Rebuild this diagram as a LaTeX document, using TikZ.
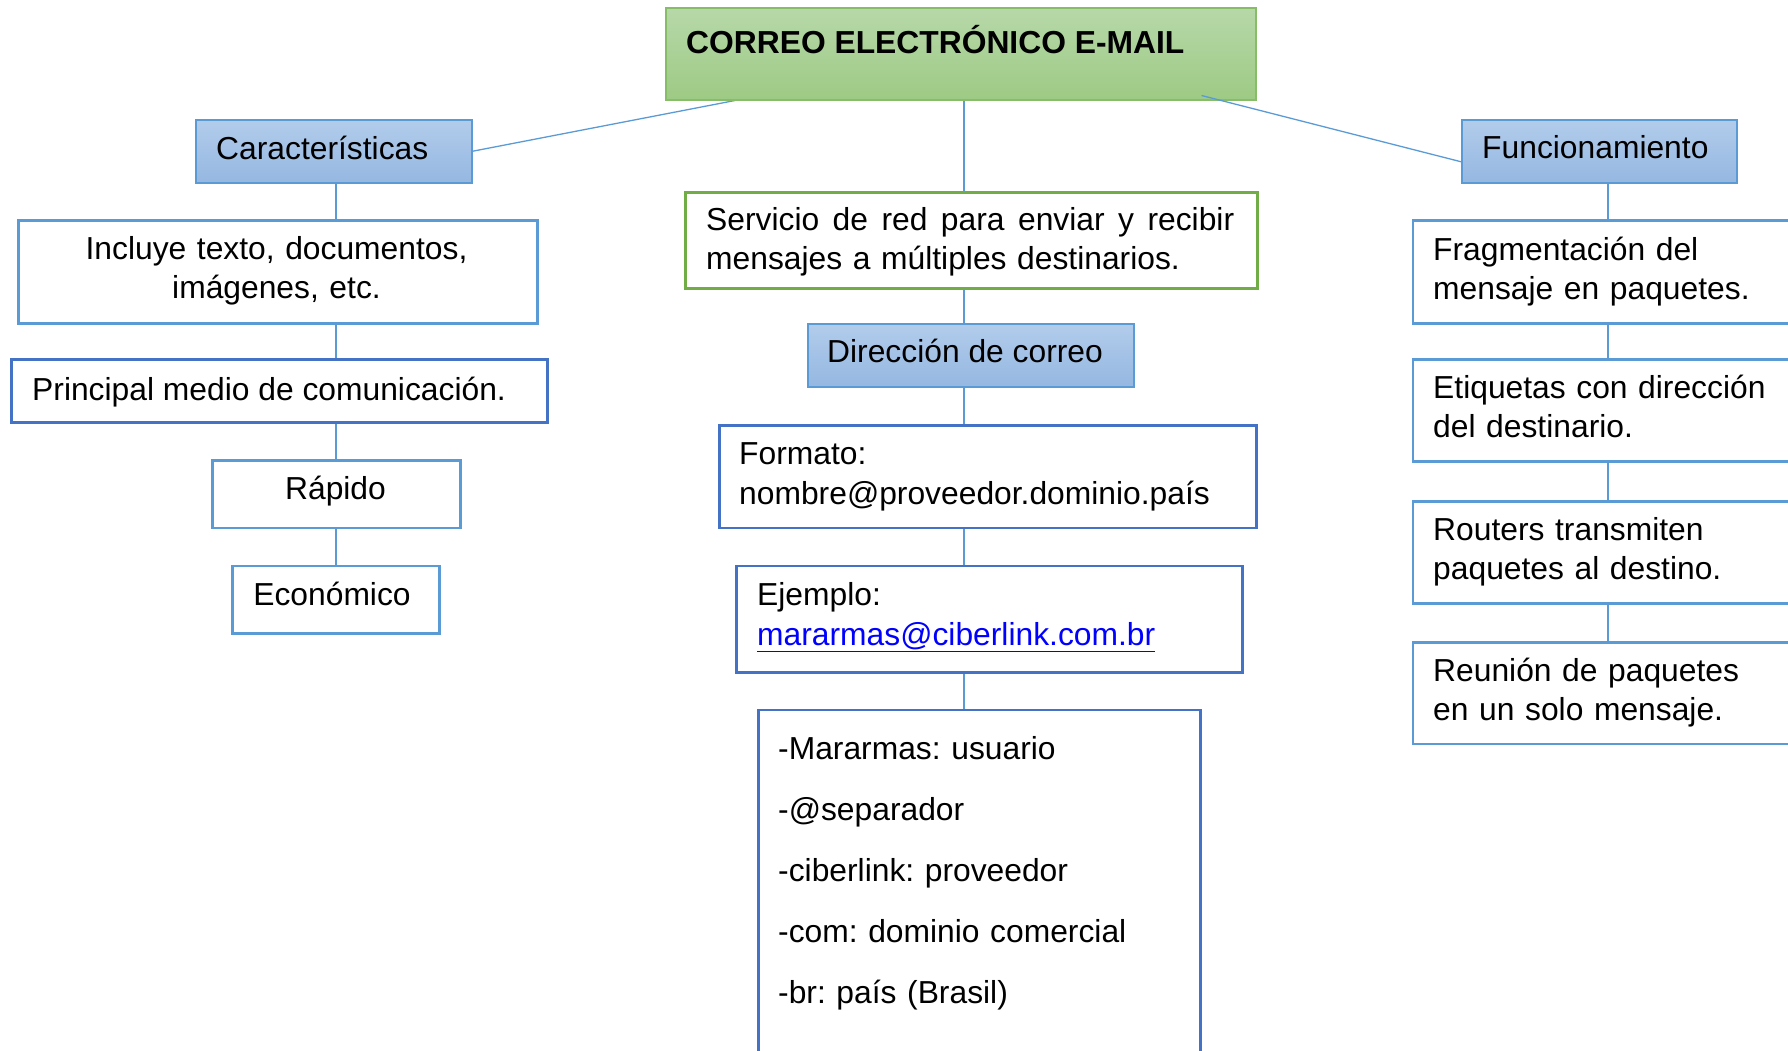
\documentclass[tikz,border=0pt]{standalone}
\usepackage{fontspec}
\setmainfont{Liberation Sans}
\usetikzlibrary{calc}
\definecolor{lblue}{HTML}{5B9BD5}
\definecolor{dblue}{HTML}{4472C4}
\definecolor{gbord}{HTML}{70AD47}
\definecolor{tgborder}{HTML}{86BD66}
\definecolor{tgtop}{HTML}{B7D8A9}
\definecolor{tgbot}{HTML}{9DCA84}
\definecolor{hbtop}{HTML}{B2CCEB}
\definecolor{hbbot}{HTML}{95B7E1}
\definecolor{linkblue}{HTML}{0000FF}
\pgfdeclarelayer{bg}
\pgfsetlayers{bg,main}
\frenchspacing
\begin{document}
\begin{tikzpicture}[x=1pt,y=-1pt,
  basebox/.style={rectangle, anchor=north west, inner sep=0pt},
  titlebox/.style={basebox, draw=tgborder, line width=1.5pt, top color=tgtop, bottom color=tgbot},
  headbox/.style={basebox, draw=lblue, line width=1.5pt, top color=hbtop, bottom color=hbbot},
  lightbox/.style={basebox, draw=lblue, line width=2.6pt, fill=white},
  darkbox/.style={basebox, draw=dblue, line width=2.6pt, fill=white},
  greenbox/.style={basebox, draw=gbord, line width=2.6pt, fill=white},
  txt/.style={anchor=base west, inner sep=0pt, font=\frenchspacing\fontsize{31.8}{39}\selectfont},
  conn/.style={draw=lblue, line width=1.3pt}]
\path[use as bounding box] (0,0) rectangle (1788,1050);
\clip (0,0) rectangle (1788,1050);

% column axes
\coordinate (lx) at (336,0);
\coordinate (cx) at (964,0);
\coordinate (rx) at (1608,0);

% boxes
\node[titlebox, minimum width=590pt, minimum height=92pt] (title) at (665,7) {};
\node[headbox, minimum width=276pt, minimum height=63pt] (car) at (195,119) {};
\node[headbox, minimum width=275pt, minimum height=63pt] (fun) at (1461,119) {};
\node[headbox, minimum width=326pt, minimum height=63pt] (dir) at (807,323) {};

\node[lightbox, minimum width=519pt, minimum height=103pt] (inc) at (17,219) {};
\node[darkbox, minimum width=536pt, minimum height=63pt] (pri) at (10,358) {};
\node[lightbox, minimum width=248pt, minimum height=67.5pt] (rap) at (211,459) {};
\node[lightbox, minimum width=207pt, minimum height=67.4pt] (eco) at (231,564.6) {};

\node[greenbox, minimum width=572pt, minimum height=96pt] (serv) at (684,191) {};
\node[darkbox, minimum width=537pt, minimum height=102.5pt] (form) at (718,424) {};
\node[darkbox, minimum width=506pt, minimum height=106.4pt] (ejem) at (735,564.6) {};
\node[darkbox, minimum width=442pt, minimum height=380pt] (list) at (757,708.5) {};

\node[lightbox, minimum width=400pt, minimum height=103pt] (frag) at (1411.5,219) {};
\node[lightbox, minimum width=400pt, minimum height=102pt] (etiq) at (1411.5,358) {};
\node[lightbox, minimum width=400pt, minimum height=102pt] (rout) at (1411.5,500) {};
\node[lightbox, minimum width=400pt, minimum height=101.6pt] (reun) at (1411.5,641) {};

% connectors
\begin{pgfonlayer}{bg}
\draw[conn] ($(title.south west)+(70,0)$) -- (car.east);
\draw[conn] (title.south -| cx) -- (serv.north -| cx);
\draw[conn] (serv.south -| cx) -- (dir.north -| cx);
\draw[conn] (dir.south -| cx) -- (form.north -| cx);
\draw[conn] (form.south -| cx) -- (ejem.north -| cx);
\draw[conn] (ejem.south -| cx) -- (list.north -| cx);
\draw[conn] (car.south -| lx) -- (inc.north -| lx);
\draw[conn] (inc.south -| lx) -- (pri.north -| lx);
\draw[conn] (pri.south -| lx) -- (rap.north -| lx);
\draw[conn] (rap.south -| lx) -- (eco.north -| lx);
\draw[conn] (fun.south -| rx) -- (frag.north -| rx);
\draw[conn] (frag.south -| rx) -- (etiq.north -| rx);
\draw[conn] (etiq.south -| rx) -- (rout.north -| rx);
\draw[conn] (rout.south -| rx) -- (reun.north -| rx);
\end{pgfonlayer}
\draw[conn] ($(title.south east)+(-55,-5)$) -- ($(fun.west)+(0,10.5)$);

% texts
\node[txt, font=\fontsize{31.8}{39}\selectfont\bfseries] (title-t) at (686,53) {CORREO ELECTRÓNICO E-MAIL};
\node[txt] (car-t) at (216,159) {Características};
\node[txt] (fun-t) at (1482,158) {Funcionamiento};
\node[txt] (dir-t) at (827,362.5) {Dirección de correo};

\node[txt, anchor=base, text width=519pt, align=center] (inc-t) at (276.5,259) {Incluye texto, documentos,\\imágenes, etc.};
\node[txt] (pri-t) at (32,400) {Principal medio de comunicación.};
\node[txt, anchor=base] (rap-t) at (335.5,499.5) {Rápido};
\node[txt, anchor=base] (eco-t) at (332,605.6) {Económico};

\node[txt, text width=530pt, align=left] (serv-t) at (706,230) {\hbox to 528pt{Servicio\hfill de\hfill red\hfill para\hfill enviar\hfill y\hfill recibir}\\mensajes a múltiples destinarios.};
\node[txt, text width=520pt, align=left, font=\frenchspacing\fontsize{31.8}{40}\selectfont] (form-t) at (739,464) {Formato:\\nombre@proveedor.dominio.país};
\node[txt, text width=480pt, align=left, font=\frenchspacing\fontsize{31.8}{39.5}\selectfont] (ejem-t) at (757,605.6) {Ejemplo:\\\textcolor{linkblue}{\underline{mararmas@ciberlink.com.br}}};
\node[txt, text width=420pt, align=left, font=\frenchspacing\fontsize{31.8}{61}\selectfont] (list-t) at (778,759) {-Mararmas: usuario\\-@separador\\-ciberlink: proveedor\\-com: dominio comercial\\-br: país (Brasil)};

\node[txt, text width=350pt, align=left] (frag-t) at (1433,260) {Fragmentación del\\mensaje en paquetes.};
\node[txt, text width=350pt, align=left] (etiq-t) at (1433,398) {Etiquetas con dirección\\del destinario.};
\node[txt, text width=350pt, align=left] (rout-t) at (1433,540) {Routers transmiten\\paquetes al destino.};
\node[txt, text width=350pt, align=left] (reun-t) at (1433,681) {Reunión de paquetes\\en un solo mensaje.};
\end{tikzpicture}
\end{document}
